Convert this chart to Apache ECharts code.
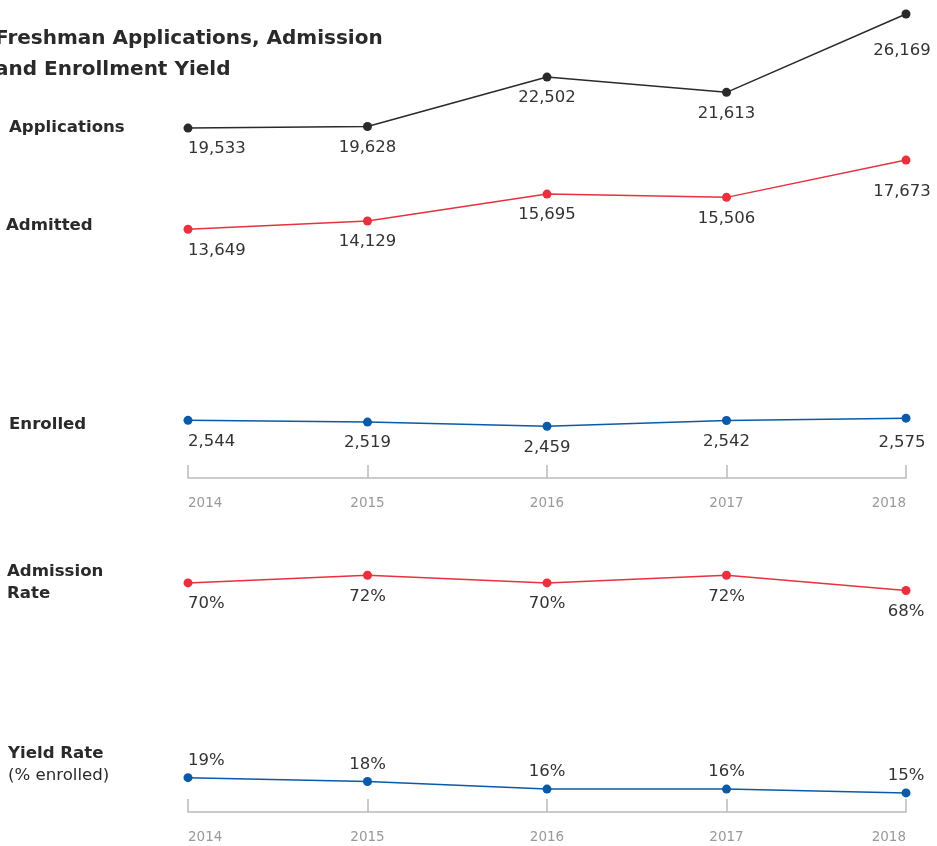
<!DOCTYPE html>
<html>
<head>
<meta charset="utf-8">
<script src="https://cdn.jsdelivr.net/npm/echarts@6/dist/echarts.min.js"></script>
<style>
html,body{margin:0;padding:0;background:#fff;}
#main{width:937px;height:846px;}
</style>
</head>
<body>
<div id="main"></div>
<script>
const years = ['2014', '2015', '2016', '2017', '2018'];
const applications = [19533, 19628, 22502, 21613, 26169];
const admitted = [13649, 14129, 15695, 15506, 17673];
const enrolled = [2544, 2519, 2459, 2542, 2575];
const admissionRate = [70, 72, 70, 72, 68];
const yieldRate = [19, 18, 16, 16, 15];

const FONT = '"DejaVu Sans", sans-serif';
const BLACK = '#2a2a2a';
const RED = '#e8303f';
const BLUE = '#0a5aa8';
const LABEL_COLOR = '#333';

function fmt(v) { return v.toLocaleString('en-US'); }

function items(arr, opts) {
  return arr.map((v, i) => {
    const it = { value: v, label: {} };
    if (i === 0) it.label.align = 'left';
    if (opts && opts[i]) Object.assign(it.label, opts[i]);
    return it;
  });
}

function lineSeries(name, data, color, xi, yi, position, formatter, extra) {
  return {
    name: name,
    type: 'line',
    xAxisIndex: xi,
    yAxisIndex: yi,
    data: items(data, extra),
    symbol: 'circle',
    symbolSize: 9,
    showAllSymbol: true,
    lineStyle: { color: color, width: 1.5 },
    itemStyle: { color: color },
    label: {
      show: true,
      position: position,
      distance: position === 'top' ? 4 : 8,
      color: LABEL_COLOR,
      fontFamily: FONT,
      fontSize: 16.5,
      formatter: formatter
    },
    animation: false,
    silent: true
  };
}

const xAxisCommon = {
  type: 'category',
  data: years,
  boundaryGap: false,
  axisLine: { onZero: false, lineStyle: { color: '#bbb', width: 1.5 } },
  axisTick: { inside: true, length: 13, lineStyle: { color: '#bbb', width: 1.5 } },
  axisLabel: {
    color: '#999', fontFamily: FONT, fontSize: 13.5, margin: 18,
    alignMinLabel: 'left', alignMaxLabel: 'right'
  }
};

function label(x, y, text, bold) {
  return { type: 'text', x: x, y: y, silent: true,
    style: { text: text, font: (bold ? 'bold ' : '') + '16.6px ' + FONT, fill: '#2a2a2a', verticalAlign: 'middle' } };
}

const chart = echarts.init(document.getElementById('main'), null, { renderer: 'canvas' });
chart.setOption({
  animation: false,
  grid: [
    { left: 188, right: 31, top: 14, height: 450 },
    { left: 188, right: 31, top: 560, height: 252 }
  ],
  xAxis: [
    Object.assign({}, xAxisCommon, { gridIndex: 0, offset: 14 }),
    Object.assign({}, xAxisCommon, { gridIndex: 1 })
  ],
  yAxis: [
    { type: 'value', gridIndex: 0, min: 0, max: 'dataMax', show: false, splitLine: { show: false } },
    { type: 'value', gridIndex: 1, min: 10, max: 76, show: false, splitLine: { show: false } },
    { type: 'value', gridIndex: 0, min: 1920, max: 8349, show: false, splitLine: { show: false } }
  ],
  graphic: [
    { type: 'text', x: -5, y: 39, silent: true, style: { text: 'Freshman Applications, Admission', font: 'bold 20px ' + FONT, fill: '#2a2a2a', verticalAlign: 'middle' } },
    { type: 'text', x: -5, y: 70, silent: true, style: { text: 'and Enrollment Yield', font: 'bold 20px ' + FONT, fill: '#2a2a2a', verticalAlign: 'middle' } },
    label(9, 128, 'Applications', true),
    label(6, 226, 'Admitted', true),
    label(9, 425, 'Enrolled', true),
    label(7, 572, 'Admission', true),
    label(7, 594, 'Rate', true),
    label(8, 754, 'Yield Rate', true),
    label(8, 776, '(% enrolled)', false)
  ],
  series: [
    lineSeries('Applications', applications, BLACK, 0, 0, 'bottom', p => fmt(p.value), { 4: { offset: [-4, 16] } }),
    lineSeries('Admitted', admitted, RED, 0, 0, 'bottom', p => fmt(p.value), { 4: { offset: [-4, 11] } }),
    lineSeries('Enrolled', enrolled, BLUE, 0, 2, 'bottom', p => fmt(p.value), { 4: { offset: [-4, 4] } }),
    lineSeries('Admission Rate', admissionRate, RED, 1, 1, 'bottom', p => p.value + '%'),
    lineSeries('Yield Rate', yieldRate, BLUE, 1, 1, 'top', p => p.value + '%')
  ]
});
</script>
</body>
</html>
